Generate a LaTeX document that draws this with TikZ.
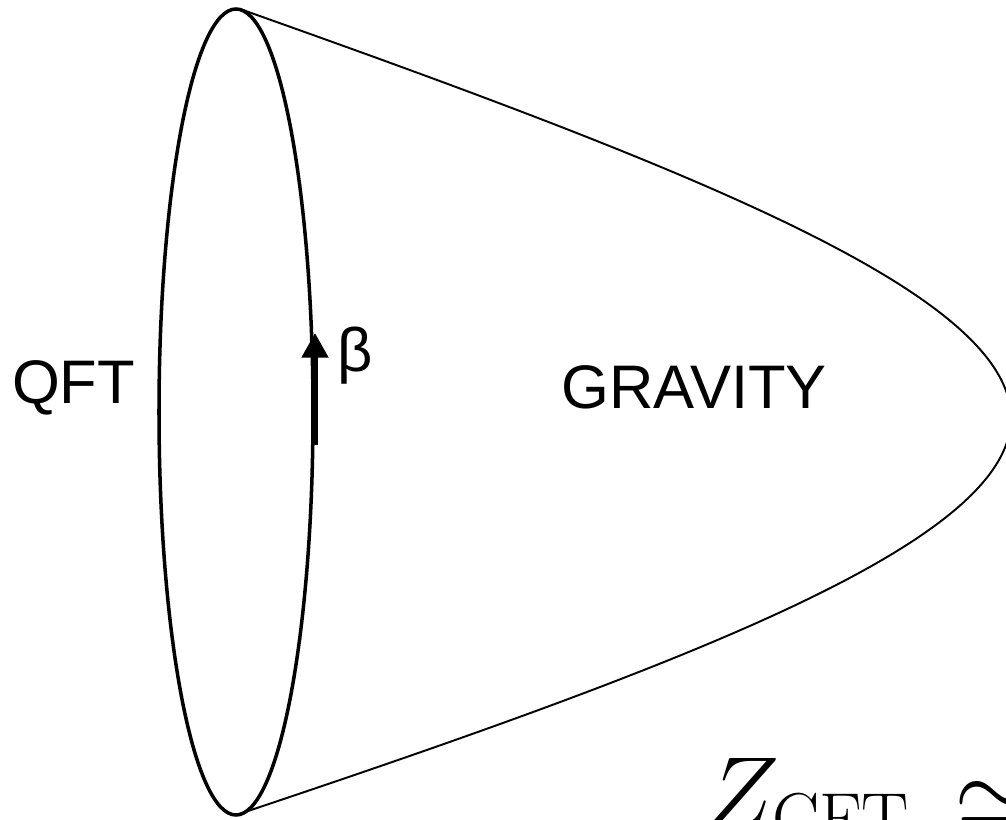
\RequirePackage{fix-cm}
\documentclass[tikz,border=0pt]{standalone}
\usepackage{amsmath}
\usepackage{fontspec}
\setsansfont{Liberation Sans}
\usepackage{tikz}
\usetikzlibrary{arrows.meta,positioning}

\begin{document}
\begin{tikzpicture}[x=0.02cm, y=-0.02cm,
    every node/.style={font=\sffamily\fontsize{35}{40}\selectfont, inner sep=0pt},
    rim/.style={line width=2pt},
    hull/.style={line width=1.1pt}]
    \useasboundingbox (0,0) rectangle (1006,820);
    \clip (0,0) rectangle (1006,820);
    % boundary circle and the filled-in geometry
    \draw[rim] (236,412) ellipse [x radius=77, y radius=403];
    \draw[hull] (240,9) .. controls (700,172) and (1011,295) .. (1011,418)
                        .. controls (1011,540) and (700,660) .. (236,815);
    \coordinate (tail) at (315,445);
    \coordinate (tip) at (315,333);
    \draw[line width=3pt, -{Triangle[length=14pt, width=14.7pt]}] (tail) -- (tip);
    \node[anchor=base] (qft) at (73.5,403) {QFT};
    \node[anchor=base] (beta) at (355,372) {β};
    \node[anchor=base] (gravity) at (694,408) {GRAVITY};
    \node[anchor=base west, font=\fontsize{57.5}{62}\selectfont] (zcft) at (704,827)
      {$Z_{\mathrm{CFT}}\mkern3mu\mathrel{\raisebox{-0.25em}{$\cong$}}$};
  \end{tikzpicture}
\end{document}
